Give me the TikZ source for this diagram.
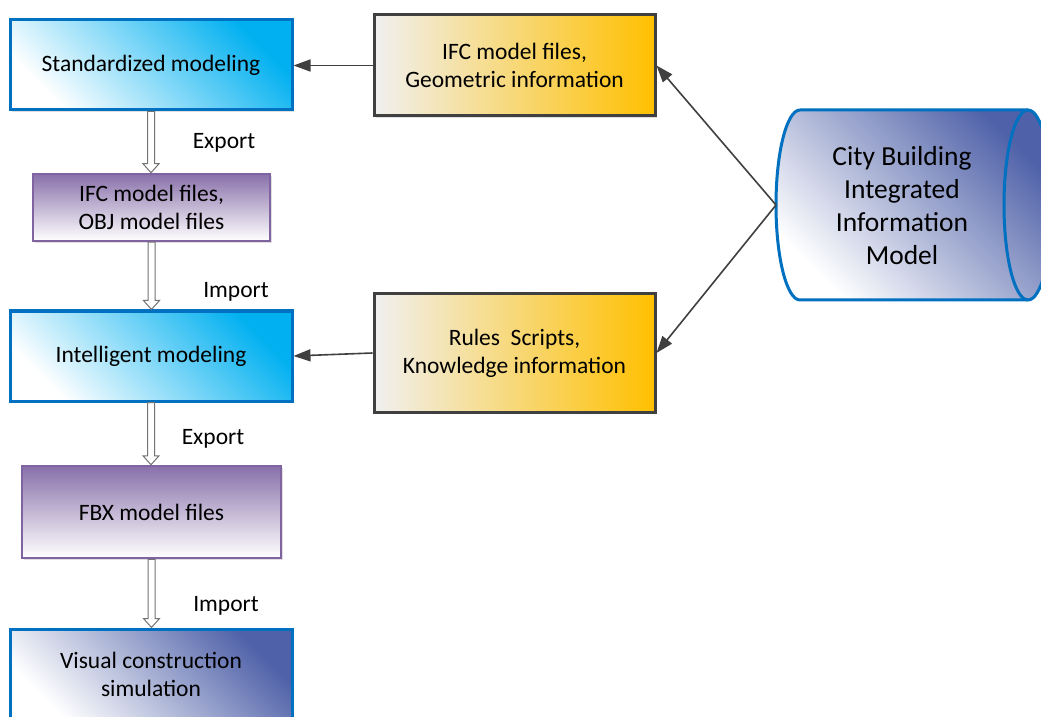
\documentclass[tikz,border=0pt]{standalone}
\usepackage{fontspec}
\setmainfont{Carlito}
\usetikzlibrary{arrows.meta,calc,shadows}
\definecolor{bborder}{RGB}{0,112,192}
\definecolor{cyanc}{RGB}{0,176,240}
\definecolor{purpc}{RGB}{136,112,170}
\definecolor{purpb}{RGB}{128,100,162}
\definecolor{goldc}{RGB}{255,192,0}
\definecolor{grayl}{RGB}{240,240,240}
\definecolor{dblue}{RGB}{79,97,168}
\definecolor{dgray}{RGB}{64,64,64}
\begin{document}
\begin{tikzpicture}[x=1pt,y=1pt,
  txt/.style={font=\fontsize{23.5}{28}\selectfont},
  base/.style={rectangle, inner sep=2pt, align=center, txt, line width=3pt,
    drop shadow={shadow xshift=2pt, shadow yshift=-2pt, opacity=0.25}},
  cyanbox/.style={base, draw=bborder, left color=white, right color=cyanc, shading angle=135,
    minimum width=282pt, minimum height=90pt},
  darkbox/.style={base, draw=bborder, left color=white, right color=dblue, shading angle=135,
    minimum width=282pt, minimum height=90pt},
  purpbox/.style={base, draw=purpb, line width=2.5pt, top color=purpc, bottom color=white},
  goldbox/.style={base, draw=dgray, left color=grayl, right color=goldc,
    minimum width=281pt},
  link/.style={draw=dgray, line width=1.6pt, -{Triangle[length=17pt,width=12pt]}},
  hollow/.style={draw=gray!90!black, fill=white, line width=1pt,
    to path={let \p1=(\tikztostart), \p2=(\tikztotarget) in
      (\x1-3.5pt,\y1) -- (\x1-3.5pt,\y2+9pt) -- (\x1-8pt,\y2+9pt) -- (\x1,\y2)
      -- (\x1+8pt,\y2+9pt) -- (\x1+3.5pt,\y2+9pt) -- (\x1+3.5pt,\y1) -- cycle}},
  lbl/.style={txt, inner sep=0pt}
]
\useasboundingbox (0,0) rectangle (1041,716);
\fill[white] (0,0) rectangle (1041,716);

% left column
\node[cyanbox] (std) at (151,651) {Standardized modeling};
\node[purpbox, minimum width=237pt, minimum height=67pt] (ifcobj) at (151.5,508.5) {IFC model files,\\OBJ model files};
\node[cyanbox] (intel) at (151,360) {Intelligent modeling};
\node[purpbox, minimum width=259pt, minimum height=92pt] (fbx) at (151.5,204) {FBX model files};
\node[darkbox] (visual) at (151,42) {Visual construction\\simulation};

% middle column
\node[goldbox, minimum height=101pt] (ifcgeo) at (514.5,650.5) {IFC model files,\\Geometric information};
\node[goldbox, minimum height=118pt] (rules) at (514.5,363) {Rules\ \ Scripts,\\Knowledge information};

% cylinder
\shade[left color=white, right color=dblue, shading angle=135]
  (800,606) -- (1028,606) arc[start angle=90, end angle=-90, x radius=24, y radius=95]
  -- (800,416) arc[start angle=270, end angle=90, x radius=24, y radius=95] -- cycle;
\draw[bborder, line width=3pt]
  (800,606) -- (1028,606) arc[start angle=90, end angle=-90, x radius=24, y radius=95]
  -- (800,416) arc[start angle=270, end angle=90, x radius=24, y radius=95] -- cycle;
\draw[bborder, line width=3pt] (1028,606) arc[start angle=90, end angle=270, x radius=24, y radius=95];
\node[align=center, font=\fontsize{27.5}{33}\selectfont] (cbiim) at (902,510)
  {City Building\\Integrated\\Information\\Model};
\coordinate (cylL) at (776,511);

% hollow arrows
\draw[hollow] (std.south) to (ifcobj.north);
\draw[hollow] (ifcobj.south) to (intel.north);
\draw[hollow] (intel.south) to (fbx.north);
\draw[hollow] (fbx.south) to (visual.north);

% labels
\node[lbl] (ex1) at (224,573) {Export};
\node[lbl] (im1) at (236,424) {Import};
\node[lbl] (ex2) at (213,277) {Export};
\node[lbl] (im2) at (226,110) {Import};

% links
\draw[link] (ifcgeo.west) -- (ifcgeo.west -| std.east);
\draw[link] (rules.west) -- (intel.east);
\draw[link] (cylL) -- (ifcgeo.east);
\draw[link] (cylL) -- (rules.east);
\end{tikzpicture}
\end{document}
